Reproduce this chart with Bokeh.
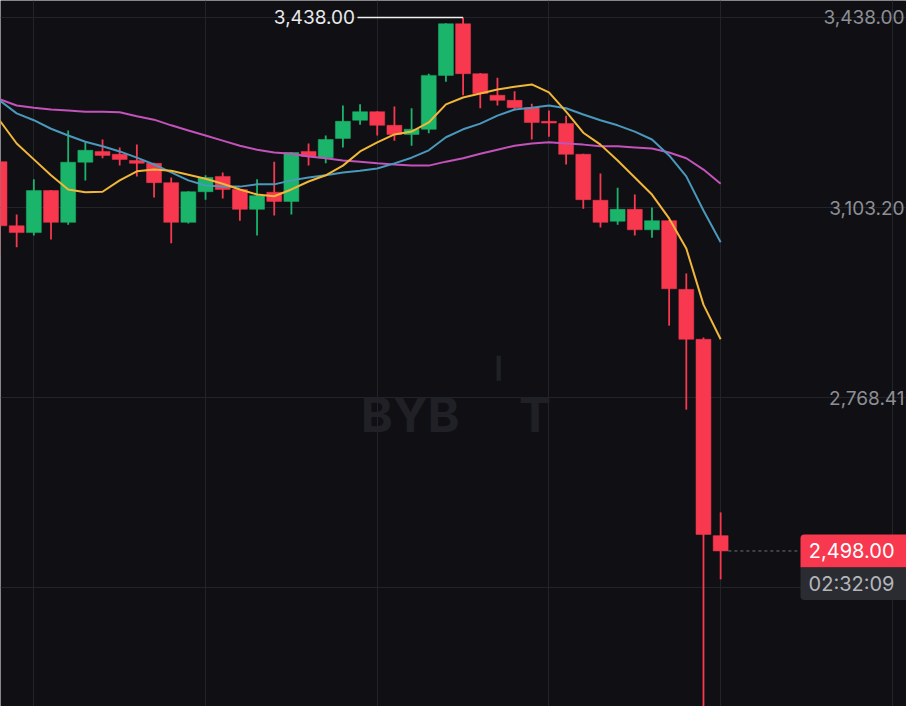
import numpy as np
from bokeh.plotting import figure
from bokeh.models import Range1d, FixedTicker, Label, BoxAnnotation, Grid
from bokeh.embed import file_html
from bokeh.resources import INLINE
from bokeh.core.properties import value

# ---------------- data ----------------
opens = [3184, 3071, 3059, 3133, 3077, 3183, 3202, 3197, 3186, 3181,
         3147, 3077, 3131, 3158, 3135, 3100, 3130, 3114, 3202, 3191,
         3225, 3257, 3272, 3248, 3232, 3241, 3336, 3427, 3339, 3301,
         3292, 3279, 3255, 3251, 3197, 3116, 3079, 3100, 3064, 3080,
         2959, 2871, 2525]
highs = [3186, 3091, 3153, 3134, 3239, 3218, 3223, 3209, 3214, 3182,
         3156, 3132, 3160, 3165, 3136, 3153, 3184, 3201, 3216, 3230,
         3283, 3285, 3273, 3281, 3278, 3339, 3428, 3438, 3340, 3332,
         3308, 3286, 3274, 3265, 3198, 3163, 3138, 3126, 3103, 3081,
         2987, 2874, 2566]
lows = [3020, 3033, 3054, 3047, 3073, 3151, 3190, 3177, 3158, 3121,
        3040, 3075, 3117, 3119, 3080, 3054, 3089, 3091, 3177, 3181,
        3209, 3249, 3230, 3221, 3212, 3234, 3325, 3301, 3278, 3283,
        3274, 3223, 3228, 3179, 3101, 3068, 3073, 3054, 3050, 2895,
        2747, 2150, 2448]
closes = [3071, 3059, 3133, 3077, 3183, 3204, 3195, 3188, 3181, 3147,
          3077, 3131, 3156, 3135, 3100, 3124, 3114, 3200, 3193, 3223,
          3255, 3272, 3248, 3232, 3241, 3336, 3427, 3339, 3304, 3292,
          3279, 3253, 3252, 3197, 3117, 3077, 3100, 3064, 3080, 2960,
          2871, 2527, 2498]
ma_yellow = [3257, 3216, 3188, 3160, 3135, 3130, 3131, 3151, 3167, 3170,
             3168, 3161, 3154, 3145, 3135, 3126, 3123, 3135, 3149, 3160,
             3177, 3202, 3218, 3232, 3237, 3253, 3285, 3297, 3304, 3311,
             3316, 3320, 3306, 3272, 3235, 3214, 3186, 3156, 3126, 3084,
             3031, 2932, 2871]
ma_blue = [3292, 3269, 3257, 3242, 3230, 3219, 3211, 3202, 3191, 3179,
           3165, 3151, 3142, 3140, 3140, 3144, 3144, 3151, 3156, 3160,
           3165, 3168, 3172, 3181, 3191, 3204, 3227, 3241, 3251, 3265,
           3276, 3279, 3283, 3278, 3267, 3257, 3248, 3237, 3223, 3195,
           3158, 3098, 3042]
ma_pink = [3294, 3283, 3279, 3276, 3274, 3272, 3272, 3271, 3264, 3258,
           3248, 3239, 3230, 3221, 3212, 3205, 3200, 3198, 3193, 3190,
           3186, 3184, 3181, 3179, 3177, 3177, 3184, 3190, 3198, 3205,
           3212, 3216, 3218, 3216, 3214, 3211, 3211, 3209, 3207, 3200,
           3190, 3170, 3145]
price_ticks = [3438.00, 3103.20, 2768.41, 2433.62]
price_labels = ["3,438.00", "3,103.20", "2,768.41"]
time_ticks = [2, 12, 22, 32, 42, 52]
last_price = 2498.00
last_label = "2,498.00"
countdown = "02:32:09"
high_label = "3,438.00"

# ---------------- styles ----------------
BG = "#101014"
GRID = "#23242a"
RED = "#F7384F"
GREEN = "#1BB46B"
YELLOW = "#F2B739"
BLUE = "#4A98BB"
PINK = "#C352BA"
FONT = "Inter"
WM = "#202127"

W, H = 906, 706
X_START, X_END = 0.058, 52.824
Y_START, Y_END = 2223.95, 3467.95
ppx = (Y_END - Y_START) / H          # price per pixel
xpx = (X_END - X_START) / W          # index per pixel

p = figure(width=W, height=H, output_backend="svg", toolbar_location=None,
           x_range=Range1d(X_START, X_END), y_range=Range1d(Y_START, Y_END),
           x_axis_type=None, y_axis_type=None, min_border=0,
           background_fill_color=BG, border_fill_color=BG, outline_line_color=None)

p.add_layout(Grid(dimension=0, ticker=FixedTicker(ticks=time_ticks),
                  grid_line_color=GRID, grid_line_width=1))
p.add_layout(Grid(dimension=1, ticker=FixedTicker(ticks=price_ticks),
                  grid_line_color=GRID, grid_line_width=1))

# watermark
wm_y = 2738.5
p.add_layout(Label(x=21.05, y=wm_y, text="BYB", text_align="left", text_baseline="alphabetic",
                   text_font=FONT, text_font_style="bold", text_font_size="48px",
                   text_color=WM))
p.add_layout(Label(x=31.19, y=wm_y, text="T", text_align="center", text_baseline="alphabetic",
                   text_font=FONT, text_font_style="bold", text_font_size="48px",
                   text_color=WM))
p.add_layout(BoxAnnotation(left=28.95, right=29.2, bottom=2798, top=2842,
                           fill_color=WM, fill_alpha=1, line_color=None))

idx = np.arange(len(opens))
o = np.array(opens, float); c = np.array(closes, float)
colors = [GREEN if cc >= oo else RED for oo, cc in zip(o, c)]

p.segment(idx, highs, idx, lows, line_color=colors, line_width=1.8)
p.vbar(x=idx, width=0.87, top=np.maximum(o, c), bottom=np.minimum(o, c),
       fill_color=colors, line_color=colors, line_width=0.5)

p.line(idx, ma_pink, line_color=PINK, line_width=2)
p.line(idx, ma_blue, line_color=BLUE, line_width=2)
p.line(idx, ma_yellow, line_color=YELLOW, line_width=2)

# high marker
hi_i = int(np.argmax(highs)); hi_v = max(highs)
p.segment(x0=[hi_i - 6.15], y0=[hi_v], x1=[hi_i], y1=[hi_v], line_color="#f0f0f0", line_width=1.5)
p.add_layout(Label(x=hi_i - 6.3, y=hi_v, text=high_label, text_align="right", text_baseline="middle",
                   text_font=FONT, text_font_size="19px", text_color="#e9e9ea"))

# right price labels
p.text(x=[X_END - 2 * xpx] * len(price_labels), y=price_ticks[:len(price_labels)], text=price_labels,
       text_align="right", text_baseline="middle", text_font=value(FONT),
       text_font_size="19px", text_color="#8d8f95")

# last price marker
last_i = len(closes) - 1
box_left = last_i + 4.65
p.segment(x0=[last_i + 0.45], y0=[last_price], x1=[box_left], y1=[last_price],
          line_color="#6f7177", line_width=1, line_dash="3 3")
p.add_layout(BoxAnnotation(left=box_left, right=X_END + 1, top=last_price + 16.5 * ppx,
                           bottom=last_price - 16.5 * ppx, fill_color=RED, fill_alpha=1,
                           line_color=None, border_radius=(4, 0, 0, 0)))
p.add_layout(BoxAnnotation(left=box_left, right=X_END + 1, top=last_price - 16.5 * ppx,
                           bottom=last_price - 49 * ppx, fill_color="#2a2c31", fill_alpha=1,
                           line_color=None, border_radius=(0, 0, 0, 4)))
p.add_layout(Label(x=X_END - 12 * xpx, y=last_price, text=last_label, text_align="right",
                   text_baseline="middle", text_font=FONT, text_font_size="20px",
                   text_color="#ffffff"))
p.add_layout(Label(x=X_END - 12 * xpx, y=last_price - 33 * ppx, text=countdown, text_align="right",
                   text_baseline="middle", text_font=FONT, text_font_size="20px",
                   text_color="#b4b6bb"))

open("out.html", "w").write(file_html(p, INLINE))
